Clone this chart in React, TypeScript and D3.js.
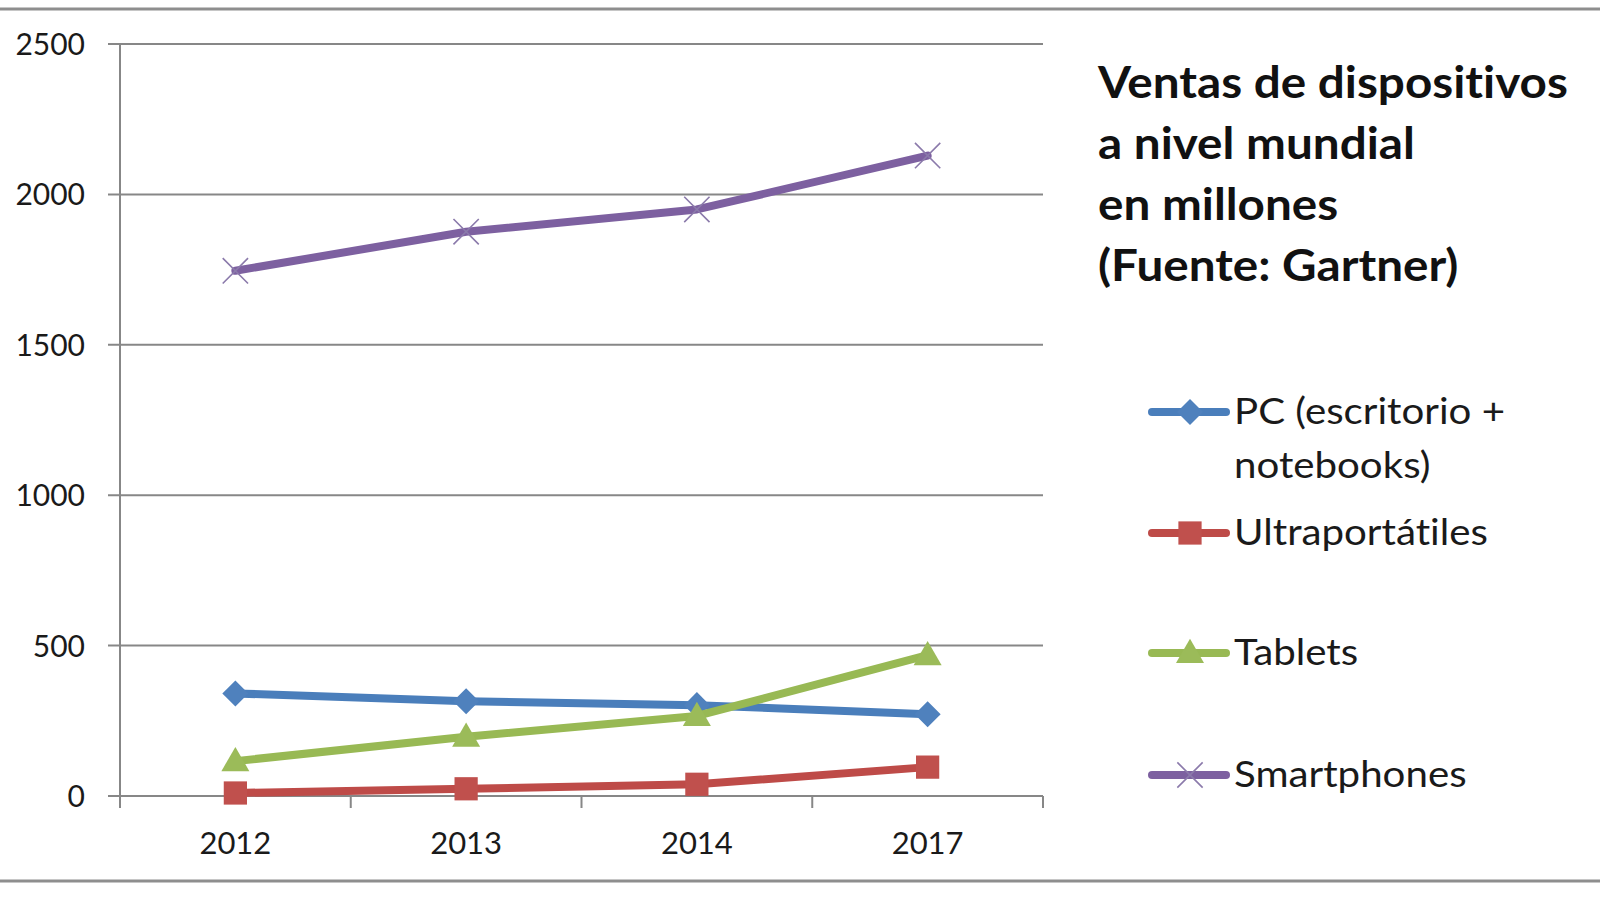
import { useEffect, useRef } from 'react'
import * as d3 from 'd3'

const years = ['2012', '2013', '2014', '2017']
const pcValues = [341, 315, 302, 272]
const ultraValues = [10, 24, 39, 96]
const tabletValues = [116, 197, 266, 468]
const smartphoneValues = [1746, 1876, 1950, 2129]
const yTicks = [0, 500, 1000, 1500, 2000, 2500]
const titleLines = ['Ventas de dispositivos', 'a nivel mundial', 'en millones', '(Fuente: Gartner)']

const series = [
  { name: ['PC (escritorio +', 'notebooks)'], values: pcValues, line: '#4A7EBB', fill: '#4F81BD', marker: 'diamond' },
  { name: ['Ultraportátiles'], values: ultraValues, line: '#BE4B48', fill: '#C0504D', marker: 'square' },
  { name: ['Tablets'], values: tabletValues, line: '#98B954', fill: '#9BBB59', marker: 'triangle' },
  { name: ['Smartphones'], values: smartphoneValues, line: '#7D60A0', fill: '#8B7AAB', marker: 'x' }
]

const W = 1600
const H = 900

export default function App() {
  const svgRef = useRef<SVGSVGElement>(null)

  useEffect(() => {
    if (!svgRef.current) return
    const svg = d3.select(svgRef.current)
    svg.selectAll('*').remove()

    const plot = { left: 120, right: 1043, top: 44, bottom: 796 }
    const x = d3.scaleBand<string>().domain(years).range([plot.left, plot.right])
    const y = d3.scaleLinear().domain([0, 2500]).range([plot.bottom, plot.top])
    const cx = (d: string) => (x(d) as number) + x.bandwidth() / 2
    const grid = '#878787'

    svg.append('rect').attr('width', W).attr('height', H).attr('fill', '#fff')

    // frame lines top and bottom
    ;[9, 881].forEach(yy => {
      svg.append('line')
        .attr('x1', 0).attr('x2', W).attr('y1', yy).attr('y2', yy)
        .attr('stroke', '#8e8e8e').attr('stroke-width', 3)
    })

    // gridlines + y labels
    const yAxis = svg.append('g')
    yTicks.forEach(t => {
      yAxis.append('line')
        .attr('x1', plot.left - 12).attr('x2', plot.right)
        .attr('y1', y(t)).attr('y2', y(t))
        .attr('stroke', grid).attr('stroke-width', 2)
      yAxis.append('text')
        .attr('x', 85).attr('y', y(t) + 11)
        .attr('text-anchor', 'end')
        .style('font-family', 'Lato')
        .style('font-size', '30px')
        .style('fill', '#1a1a1a')
        .text(t)
    })
    yAxis.append('line')
      .attr('x1', plot.left).attr('x2', plot.left)
      .attr('y1', plot.top).attr('y2', plot.bottom + 12)
      .attr('stroke', grid).attr('stroke-width', 2)

    // x ticks at band edges
    years.forEach(d => {
      const xe = (x(d) as number) + x.bandwidth()
      svg.append('line')
        .attr('x1', xe).attr('x2', xe)
        .attr('y1', plot.bottom).attr('y2', plot.bottom + 12)
        .attr('stroke', grid).attr('stroke-width', 2)
      svg.append('text')
        .attr('x', cx(d)).attr('y', 854)
        .attr('text-anchor', 'middle')
        .style('font-family', 'Lato')
        .style('font-size', '31px')
        .style('fill', '#1a1a1a')
        .text(d)
    })

    const drawMarker = (g: any, kind: string, px: number, py: number, fill: string) => {
      if (kind === 'diamond') {
        g.append('path')
          .attr('d', d3.symbol(d3.symbolSquare, 340)())
          .attr('transform', `translate(${px},${py}) rotate(45)`)
          .attr('fill', fill)
      } else if (kind === 'square') {
        g.append('path')
          .attr('d', d3.symbol(d3.symbolSquare, 540)())
          .attr('transform', `translate(${px},${py})`)
          .attr('fill', fill)
      } else if (kind === 'triangle') {
        g.append('path')
          .attr('d', d3.symbol(d3.symbolTriangle, 340)())
          .attr('transform', `translate(${px},${py + 2})`)
          .attr('fill', fill)
      } else {
        g.append('path')
          .attr('d', d3.symbol(d3.symbolTimes, 420)())
          .attr('transform', `translate(${px},${py})`)
          .attr('fill', 'none')
          .attr('stroke', fill)
          .attr('stroke-width', 1.6)
      }
    }

    // series
    const line = d3.line<number>()
      .x((_, i) => cx(years[i]))
      .y(v => y(v))

    series.forEach(s => {
      const g = svg.append('g')
      g.append('path')
        .datum(s.values)
        .attr('d', line)
        .attr('fill', 'none')
        .attr('stroke', s.line)
        .attr('stroke-width', 8)
        .attr('stroke-linejoin', 'round')
        .attr('stroke-linecap', 'round')
      s.values.forEach((v, i) => drawMarker(g, s.marker, cx(years[i]), y(v), s.fill))
    })

    // stretch text horizontally to fit a target width
    const fitGroup = (nodes: SVGTextElement[], ref: SVGTextElement, target: number) => {
      const sx = target / ref.getComputedTextLength()
      nodes.forEach(n => {
        const tx = +(n.getAttribute('x') || 0)
        const ty = +(n.getAttribute('y') || 0)
        n.setAttribute('x', '0')
        n.setAttribute('y', '0')
        n.setAttribute('transform', `translate(${tx},${ty}) scale(${sx},1)`)
      })
    }

    // title
    const titleBaselines = [98, 159, 220, 281]
    const titleNodes: SVGTextElement[] = []
    titleLines.forEach((t, i) => {
      const n = svg.append('text')
        .attr('x', 1098).attr('y', titleBaselines[i])
        .style('font-family', 'Lato')
        .style('font-weight', 'bold')
        .style('font-size', '43px')
        .style('font-variant-ligatures', 'none')
        .style('fill', '#111')
        .text(t)
      titleNodes.push(n.node() as SVGTextElement)
    })
    fitGroup(titleNodes, titleNodes[0], 470)

    // legend
    const legendY = [412, 533, 653, 775]
    const legendNodes: SVGTextElement[] = []
    let refNode: SVGTextElement | null = null
    series.forEach((s, i) => {
      const ly = legendY[i]
      const g = svg.append('g')
      g.append('line')
        .attr('x1', 1152).attr('x2', 1226)
        .attr('y1', ly).attr('y2', ly)
        .attr('stroke', s.line).attr('stroke-width', 8)
        .attr('stroke-linecap', 'round')
      drawMarker(g, s.marker, 1190, ly, s.fill)
      s.name.forEach((t, j) => {
        const n = g.append('text')
          .attr('x', 1234).attr('y', ly + 12 + j * 54)
          .style('font-family', 'Lato')
          .style('font-size', '37px')
          .style('font-variant-ligatures', 'none')
          .style('fill', '#1a1a1a')
          .text(t)
        const node = n.node() as SVGTextElement
        legendNodes.push(node)
        if (t === 'Ultraportátiles') refNode = node
      })
    })
    if (refNode) fitGroup(legendNodes, refNode, 254)
  }, [])

  return (
    <div style={{ position: 'absolute', left: 0, top: 0 }}>
      <svg ref={svgRef} width={W} height={H} />
    </div>
  )
}
